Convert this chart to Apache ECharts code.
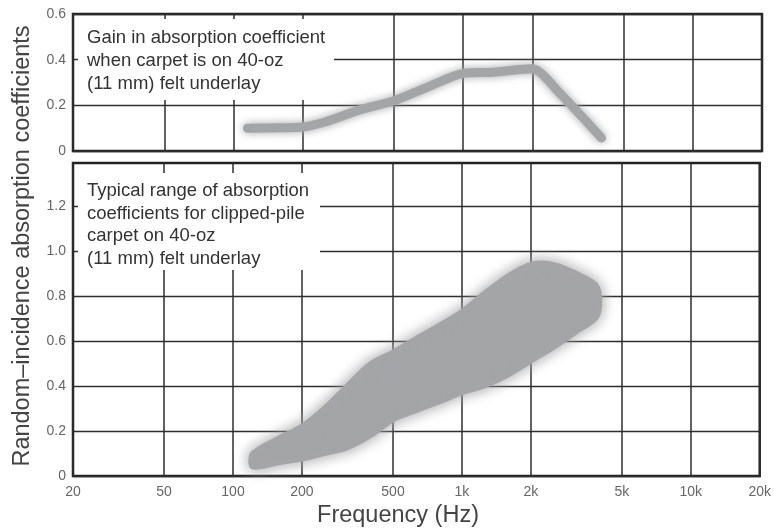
<!DOCTYPE html>
<html><head><meta charset="utf-8">
<script src="https://cdn.jsdelivr.net/npm/echarts@6/dist/echarts.min.js"></script>
<style>html,body{margin:0;padding:0;background:#fff}#c{width:774px;height:530px}</style>
</head><body><div id="c"></div>
<script>
// Frequency axis (Hz) tick values
const freqTicks = [20, 50, 100, 200, 500, 1000, 2000, 5000, 10000, 20000];
// Top panel: gain in absorption coefficient
const gainFreq  = [115, 160, 200, 250, 355, 500, 700, 1000, 1350, 2000, 2650, 4000];
const gainValue = [0.10, 0.102, 0.105, 0.127, 0.18, 0.22, 0.28, 0.34, 0.345, 0.36, 0.25, 0.057];
// Bottom panel: typical range (band) for clipped-pile carpet
const bandFreq  = [122, 160, 200, 250, 315, 400, 500, 630, 800, 1000, 1250, 1600, 2000, 2500, 3150, 3900];
const bandUpper = [0.10, 0.17, 0.22, 0.30, 0.40, 0.50, 0.55, 0.61, 0.67, 0.73, 0.81, 0.89, 0.94, 0.94, 0.90, 0.84];
const bandLower = [0.04, 0.06, 0.075, 0.10, 0.125, 0.18, 0.25, 0.29, 0.33, 0.37, 0.40, 0.45, 0.51, 0.57, 0.64, 0.71];
// Y tick labels
const topYTicks = [0, 0.2, 0.4, 0.6];
const bottomYTicks = [0, 0.2, 0.4, 0.6, 0.8, 1.0, 1.2];

const FONT = '"Liberation Sans", Arial, sans-serif';
const GRID_COLOR = '#2e2e2e';
const BLOB = '#a4a5a7';

function freqLabel(v) {
  v = Math.round(v);
  return v >= 1000 ? (v / 1000) + 'k' : String(v);
}
function yLabel(v) {
  return Math.abs(v) < 1e-9 ? '0' : v.toFixed(1);
}

function xAxis(gridIndex, showLabels) {
  return {
    type: 'log', logBase: 10, gridIndex: gridIndex, min: 20, max: 20000,
    axisLine: { show: false },
    axisTick: { show: false, customValues: freqTicks },
    axisLabel: {
      show: showLabels, customValues: freqTicks, formatter: freqLabel,
      color: '#666', fontSize: 14, fontFamily: FONT, margin: 9
    },
    splitLine: { show: true, lineStyle: { color: GRID_COLOR, width: 1.5 } }
  };
}
function yAxis(gridIndex, max, ticks) {
  return {
    type: 'value', gridIndex: gridIndex, min: 0, max: max, interval: 0.2,
    axisLine: { show: false },
    axisTick: { show: false, customValues: ticks },
    axisLabel: {
      customValues: ticks, formatter: yLabel,
      color: '#666', fontSize: 14, fontFamily: FONT, margin: 7
    },
    splitLine: { show: true, lineStyle: { color: GRID_COLOR, width: 1.4 } }
  };
}

const chart = echarts.init(document.getElementById('c'), null, { renderer: 'canvas' });
chart.setOption({
  animation: false,
  backgroundColor: '#ffffff',
  grid: [
    { left: 73, top: 14, width: 689, height: 137, show: true, borderColor: '#222', borderWidth: 2.5, backgroundColor: 'transparent' },
    { left: 73, top: 163, width: 689, height: 313, show: true, borderColor: '#222', borderWidth: 2.5, backgroundColor: 'transparent' }
  ],
  xAxis: [xAxis(0, false), xAxis(1, true)],
  yAxis: [yAxis(0, 0.6, topYTicks), yAxis(1, 1.39, bottomYTicks)],
  series: [
    {
      type: 'line', xAxisIndex: 0, yAxisIndex: 0,
      data: gainFreq.map((f, i) => [f, gainValue[i]]),
      showSymbol: false, smooth: 0.25, z: 5,
      lineStyle: { width: 9, color: BLOB, cap: 'round', join: 'round', shadowBlur: 8, shadowColor: BLOB }
    },
    {
      type: 'custom', xAxisIndex: 1, yAxisIndex: 1, z: 5,
      data: bandFreq.map((f, i) => [f, bandLower[i], bandUpper[i]]),
      encode: { x: 0, y: [1, 2] },
      renderItem: function (params, api) {
        if (params.dataIndex !== 0) return null;
        const pts = [];
        for (let i = 0; i < bandFreq.length; i++) pts.push(api.coord([bandFreq[i], bandUpper[i]]));
        for (let i = bandFreq.length - 1; i >= 0; i--) pts.push(api.coord([bandFreq[i], bandLower[i]]));
        return {
          type: 'polygon', shape: { points: pts, smooth: 0.3 },
          style: { fill: BLOB, stroke: BLOB, lineWidth: 5, lineJoin: 'round', shadowBlur: 14, shadowColor: BLOB }
        };
      }
    }
  ],
  graphic: [
    { type: 'rect', left: 78, top: 19, shape: { width: 256, height: 81 }, style: { fill: '#fff' }, z: 10 },
    { type: 'text', left: 87, top: 26, z: 11,
      style: { text: 'Gain in absorption coefficient\nwhen carpet is on 40-oz\n(11 mm) felt underlay',
        font: '18.5px ' + FONT, fill: '#333', lineHeight: 23 } },
    { type: 'rect', left: 78, top: 173, shape: { width: 242, height: 97 }, style: { fill: '#fff' }, z: 10 },
    { type: 'text', left: 87, top: 180, z: 11,
      style: { text: 'Typical range of absorption\ncoefficients for clipped-pile\ncarpet on 40-oz\n(11 mm) felt underlay',
        font: '18.5px ' + FONT, fill: '#333', lineHeight: 22.5 } },
    { type: 'text', z: 11, x: 23, y: 246, rotation: Math.PI / 2,
      style: { text: 'Random–incidence absorption coefficients', font: '23.5px ' + FONT, fill: '#444',
        align: 'center', verticalAlign: 'middle' } },
    { type: 'text', z: 11, x: 398, y: 516,
      style: { text: 'Frequency (Hz)', font: '23.5px ' + FONT, fill: '#444', align: 'center', verticalAlign: 'middle' } }
  ]
});
</script>
</body></html>
